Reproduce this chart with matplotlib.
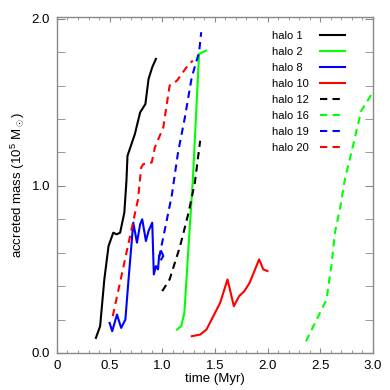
import matplotlib
matplotlib.use("Agg")
import matplotlib.pyplot as plt
from matplotlib.ticker import MultipleLocator, FixedFormatter, FixedLocator

plt.rcParams['font.family'] = ['Liberation Sans', 'DejaVu Sans']
plt.rcParams['mathtext.fontset'] = 'custom'
plt.rcParams['mathtext.rm'] = 'Liberation Sans'
plt.rcParams['mathtext.it'] = 'Liberation Sans'

# halo 1 (black solid)
h1_t = [0.37, 0.41, 0.45, 0.49, 0.535, 0.567, 0.60, 0.64, 0.66, 0.67, 0.74, 0.79, 0.84, 0.87, 0.905, 0.94]
h1_m = [0.09, 0.16, 0.44, 0.64, 0.72, 0.71, 0.72, 0.84, 1.03, 1.18, 1.31, 1.44, 1.49, 1.64, 1.71, 1.76]
# halo 2 (green solid)
h2_t = [1.14, 1.18, 1.21, 1.25, 1.29, 1.35, 1.415]
h2_m = [0.14, 0.16, 0.24, 0.64, 1.03, 1.79, 1.81]
# halo 8 (blue solid)
h8_t = [0.50, 0.525, 0.57, 0.61, 0.65, 0.68, 0.725, 0.76, 0.79, 0.81, 0.845, 0.87, 0.905,
        0.92, 0.94, 0.96, 0.97, 0.99, 1.01, 0.99]
h8_m = [0.18, 0.13, 0.23, 0.15, 0.20, 0.44, 0.78, 0.66, 0.77, 0.80, 0.67, 0.73, 0.78,
        0.47, 0.52, 0.50, 0.58, 0.61, 0.58, 0.56]
# halo 10 (red solid)
h10_t = [1.28, 1.36, 1.42, 1.485, 1.55, 1.62, 1.68, 1.73, 1.78, 1.83, 1.92, 1.96, 2.0]
h10_m = [0.10, 0.11, 0.14, 0.22, 0.30, 0.44, 0.28, 0.34, 0.37, 0.42, 0.56, 0.50, 0.49]
# halo 12 (black dashed)
h12_t = [1.0, 1.07, 1.17, 1.25, 1.31, 1.36]
h12_m = [0.37, 0.44, 0.64, 0.84, 1.02, 1.27]
# halo 16 (green dashed)
h16_t = [2.365, 2.56, 2.61, 2.64, 2.69, 2.735, 2.80, 2.89, 3.0]
h16_m = [0.07, 0.32, 0.54, 0.72, 0.87, 1.04, 1.21, 1.45, 1.56]
# halo 19 (blue dashed)
h19_t = [0.97, 1.09, 1.15, 1.215, 1.28, 1.35, 1.37]
h19_m = [0.57, 0.94, 1.20, 1.41, 1.65, 1.80, 1.92]
# halo 20 (red dashed)
h20_t = [0.53, 0.77, 0.80, 0.82, 0.90, 0.93, 1.01, 1.07, 1.14, 1.23, 1.29]
h20_m = [0.22, 0.92, 1.11, 1.13, 1.14, 1.23, 1.35, 1.60, 1.63, 1.71, 1.75]

series = [
    ("halo 1", h1_t, h1_m, 'black', '-'),
    ("halo 2", h2_t, h2_m, '#00ff00', '-'),
    ("halo 8", h8_t, h8_m, '#0000ff', '-'),
    ("halo 10", h10_t, h10_m, '#ff0000', '-'),
    ("halo 12", h12_t, h12_m, 'black', '--'),
    ("halo 16", h16_t, h16_m, '#00ff00', '--'),
    ("halo 19", h19_t, h19_m, '#0000ff', '--'),
    ("halo 20", h20_t, h20_m, '#ff0000', '--'),
]

fig = plt.figure(figsize=(3.9, 3.9), dpi=100)
ax = fig.add_axes([0.146, 0.095, 0.81, 0.861])

for name, t, m, c, ls in series:
    if ls == '--':
        ax.plot(t, m, color=c, lw=1.5, ls=ls, dashes=(3.5, 2.5), label=name)
    else:
        ax.plot(t, m, color=c, lw=1.5, ls=ls, label=name)

ax.set_xlim(0, 3.0)
ax.set_ylim(0, 2.01)
ax.xaxis.set_major_locator(FixedLocator([0, 0.5, 1.0, 1.5, 2.0, 2.5, 3.0]))
ax.xaxis.set_major_formatter(FixedFormatter(['0', '0.5', '1.0', '1.5', '2.0', '2.5', '3.0']))
ax.xaxis.set_minor_locator(MultipleLocator(0.1))
ax.yaxis.set_major_locator(FixedLocator([0, 1.0, 2.0]))
ax.yaxis.set_major_formatter(FixedFormatter(['0.0', '1.0', '2.0']))
ax.yaxis.set_minor_locator(MultipleLocator(0.2))

for s in ax.spines.values():
    s.set_color('#888888')
    s.set_linewidth(1.0)
ax.tick_params(which='both', direction='in', top=True, right=True, color='#888888',
               labelsize=9.5, pad=5)
ax.tick_params(axis='x', which='major', length=3.6)
ax.tick_params(axis='x', which='minor', length=2.3)
ax.tick_params(axis='y', which='both', length=5.8)

ax.set_xlabel("time (Myr)", fontsize=9.5, labelpad=1)
ax.set_ylabel(r"accreted mass (10$^5$ M$_\odot$)", fontsize=9.5, labelpad=3)

fs = 8
textpad = 1.0
leg = ax.legend(loc='upper right', frameon=False, fontsize=fs, markerfirst=False,
                handlelength=2.25, labelspacing=0.55, handletextpad=textpad,
                bbox_to_anchor=(0.943, 0.99))

# pad each row so labels are left aligned and the handles still line up
renderer = fig.canvas.get_renderer()
widths = [t.get_window_extent(renderer).width for t in leg.get_texts()]
maxw = max(widths)
for col in leg._legend_handle_box.get_children():
    for row, w in zip(col.get_children(), widths):
        row.sep = textpad * fs + (maxw - w) * 72.0 / fig.dpi

fig.savefig("out.png", dpi=100)
